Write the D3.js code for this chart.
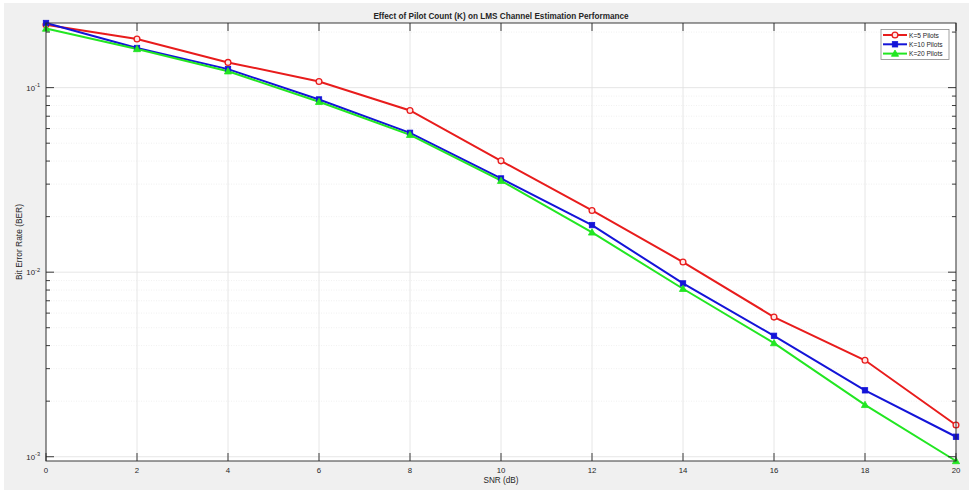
<!DOCTYPE html>
<html>
<head>
<meta charset="utf-8">
<script src="https://cdn.jsdelivr.net/npm/d3@7/dist/d3.min.js"></script>
<style>
  html, body { margin: 0; padding: 0; background: #ffffff; }
  svg { display: block; }
  text { font-family: "Liberation Sans", Arial, Helvetica, sans-serif; fill: #262626; }
</style>
</head>
<body>
<svg id="chart" width="976" height="490"></svg>
<script>
// ---- data ----
const snr = [0, 2, 4, 6, 8, 10, 12, 14, 16, 18, 20];
const berK5  = [0.219, 0.1836, 0.137, 0.108, 0.0752, 0.0401, 0.0216, 0.01135, 0.00571, 0.00333, 0.001486];
const berK10 = [0.224, 0.164, 0.126, 0.0863, 0.0569, 0.0322, 0.0180, 0.00869, 0.00452, 0.00229, 0.001283];
const berK20 = [0.209, 0.162, 0.1227, 0.0838, 0.0555, 0.0313, 0.01643, 0.00813, 0.00413, 0.00191, 0.000948];
const seriesNames = ["K=5 Pilots", "K=10 Pilots", "K=20 Pilots"];
const xTicks = [0, 2, 4, 6, 8, 10, 12, 14, 16, 18, 20];
const yTickExps = [-3, -2, -1];
const titleText = "Effect of Pilot Count (K) on LMS Channel Estimation Performance";
const xLabel = "SNR (dB)";
const yLabel = "Bit Error Rate (BER)";

// ---- layout ----
const m = { left: 46, right: 956, top: 23, bottom: 461 };
const svg = d3.select("#chart");

svg.append("rect").attr("x", 4).attr("y", 3).attr("width", 965).attr("height", 487).attr("fill", "#f0f0f0");
svg.append("rect").attr("x", m.left).attr("y", m.top)
   .attr("width", m.right - m.left).attr("height", m.bottom - m.top).attr("fill", "#ffffff");

const all = berK5.concat(berK10, berK20);
const x = d3.scaleLinear().domain([0, 20]).range([m.left, m.right]);
const y = d3.scaleLog().domain(d3.extent(all)).range([m.bottom, m.top]);

// minor tick values
const minorVals = [];
for (let e = -4; e <= 0; e++) for (let k = 2; k <= 9; k++) {
  const v = k * Math.pow(10, e);
  if (v >= y.domain()[0] && v <= y.domain()[1]) minorVals.push(v);
}
const majorVals = yTickExps.map(e => Math.pow(10, e));

// grids
const grid = svg.append("g");
grid.selectAll(".ymin").data(minorVals).enter().append("line")
  .attr("x1", m.left).attr("x2", m.right)
  .attr("y1", d => y(d)).attr("y2", d => y(d))
  .attr("stroke", "#ececec").attr("stroke-width", 0.8).attr("stroke-dasharray", "1,1.5");
grid.selectAll(".ymaj").data(majorVals).enter().append("line")
  .attr("x1", m.left).attr("x2", m.right)
  .attr("y1", d => y(d)).attr("y2", d => y(d))
  .attr("stroke", "#e0e0e0").attr("stroke-width", 0.8);
grid.selectAll(".xg").data(xTicks).enter().append("line")
  .attr("x1", d => x(d)).attr("x2", d => x(d))
  .attr("y1", m.top).attr("y2", m.bottom)
  .attr("stroke", "#e0e0e0").attr("stroke-width", 0.8);

// series
const colors = ["#e81c1c", "#1414d8", "#22e622"];
const datasets = [berK5, berK10, berK20];
const line = d3.line().x((d, i) => x(snr[i])).y(d => y(d));
datasets.forEach((ds, si) => {
  svg.append("path").datum(ds).attr("d", line)
    .attr("fill", "none").attr("stroke", colors[si]).attr("stroke-width", 2);
});
function drawMarker(g, si, cx, cy) {
  if (si === 0) {
    g.append("circle").attr("cx", cx).attr("cy", cy).attr("r", 2.9)
      .attr("fill", "#ffe4e4").attr("stroke", colors[0]).attr("stroke-width", 1.3);
  } else if (si === 1) {
    g.append("rect").attr("x", cx - 2.7).attr("y", cy - 2.7).attr("width", 5.4).attr("height", 5.4)
      .attr("fill", colors[1]).attr("stroke", colors[1]).attr("stroke-width", 0.8);
  } else {
    const s = 3.6;
    g.append("path").attr("d", `M${cx},${cy - s}L${cx + s},${cy + s * 0.75}L${cx - s},${cy + s * 0.75}Z`)
      .attr("fill", colors[2]).attr("stroke", colors[2]).attr("stroke-width", 0.8);
  }
}
const mk = svg.append("g");
datasets.forEach((ds, si) => ds.forEach((v, i) => drawMarker(mk, si, x(snr[i]), y(v))));

// axes box
const ax = svg.append("g").attr("stroke", "#262626").attr("stroke-width", 0.9);
ax.append("rect").attr("x", m.left).attr("y", m.top).attr("width", m.right - m.left)
  .attr("height", m.bottom - m.top).attr("fill", "none");
xTicks.forEach(t => {
  ax.append("line").attr("x1", x(t)).attr("x2", x(t)).attr("y1", m.bottom).attr("y2", m.bottom - 8);
  ax.append("line").attr("x1", x(t)).attr("x2", x(t)).attr("y1", m.top).attr("y2", m.top + 8);
});
majorVals.forEach(v => {
  ax.append("line").attr("x1", m.left).attr("x2", m.left + 8).attr("y1", y(v)).attr("y2", y(v));
  ax.append("line").attr("x1", m.right).attr("x2", m.right - 8).attr("y1", y(v)).attr("y2", y(v));
});
minorVals.forEach(v => {
  ax.append("line").attr("x1", m.left).attr("x2", m.left + 4).attr("y1", y(v)).attr("y2", y(v));
  ax.append("line").attr("x1", m.right).attr("x2", m.right - 4).attr("y1", y(v)).attr("y2", y(v));
});

// tick labels
svg.append("g").selectAll("text").data(xTicks).enter().append("text")
  .attr("x", d => x(d)).attr("y", 473).attr("text-anchor", "middle")
  .attr("font-size", "7.8px").text(d => d);
const yl = svg.append("g");
yTickExps.forEach(e => {
  const t = yl.append("text").attr("x", 40).attr("y", y(Math.pow(10, e)) + 3)
    .attr("text-anchor", "end").attr("font-size", "7.8px");
  t.append("tspan").text("10");
  t.append("tspan").attr("dy", -3.5).attr("font-size", "5.6px").text(String(e));
});

// title and labels
svg.append("text").attr("x", (m.left + m.right) / 2).attr("y", 19).attr("text-anchor", "middle")
  .attr("font-size", "8.2px").attr("font-weight", "bold").attr("fill", "#000").text(titleText);
svg.append("text").attr("x", (m.left + m.right) / 2).attr("y", 483).attr("text-anchor", "middle")
  .attr("font-size", "8.2px").text(xLabel);
svg.append("text").attr("transform", `translate(22,${(m.top + m.bottom) / 2}) rotate(-90)`)
  .attr("text-anchor", "middle").attr("font-size", "8.4px").text(yLabel);

// legend
const lg = svg.append("g");
lg.append("rect").attr("x", 881).attr("y", 29.5).attr("width", 68).attr("height", 30)
  .attr("fill", "#ffffff").attr("stroke", "#8a8a8a").attr("stroke-width", 0.8);
seriesNames.forEach((nm, si) => {
  const ly = 35 + si * 9.3;
  lg.append("line").attr("x1", 883).attr("x2", 907).attr("y1", ly).attr("y2", ly)
    .attr("stroke", colors[si]).attr("stroke-width", 2);
  drawMarker(lg, si, 895, ly);
  lg.append("text").attr("x", 909).attr("y", ly + 2.6).attr("font-size", "6.6px").text(nm);
});
</script>
</body>
</html>
